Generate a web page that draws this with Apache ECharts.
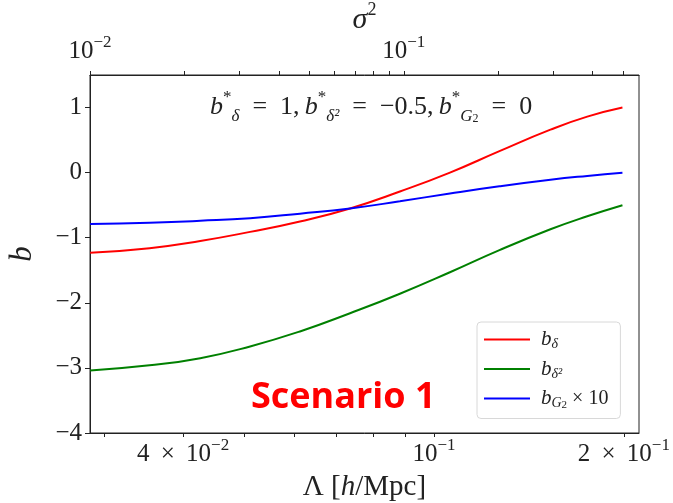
<!DOCTYPE html>
<html>
<head>
<meta charset="utf-8">
<script src="https://cdn.jsdelivr.net/npm/echarts@6/dist/echarts.min.js"></script>
<style>
    html, body { margin: 0; padding: 0; background: #fff; }
    #chart { width: 673px; height: 503px; }
</style>
</head>
<body>
<div id="chart"></div>
<script>
    // Λ [h/Mpc] sample points
    var lambdaVals = [0.0285, 0.0354, 0.0426, 0.0511, 0.0613, 0.0736, 0.0883, 0.106, 0.127, 0.153, 0.175, 0.199]
    // bias curves
    var bDelta = [-1.23, -1.16, -1.05, -0.91, -0.75, -0.55, -0.29, 0.0, 0.33, 0.66, 0.86, 1.0]
    var bDelta2 = [-3.04, -2.96, -2.85, -2.67, -2.44, -2.16, -1.86, -1.53, -1.19, -0.87, -0.67, -0.5]
    var bG2x10 = [-0.79, -0.77, -0.74, -0.70, -0.63, -0.55, -0.44, -0.32, -0.21, -0.11, -0.05, 0.0]

    // ticks
    var yTicks = [-4, -3, -2, -1, 0, 1]
    var bottomLabels = [0.04, 0.1, 0.2]
    var bottomTicks = [0.03, 0.04, 0.05, 0.06, 0.07, 0.08, 0.09, 0.1, 0.2]
    var topLabels = [0.01, 0.1]
    var topTicks = [0.01, 0.02, 0.03, 0.04, 0.05, 0.06, 0.07, 0.08, 0.09, 0.1, 0.2, 0.3, 0.4, 0.5]

    var SERIF = '"Liberation Serif", "DejaVu Serif", serif'
    var INK = '#222'
    var LINE_ICON = 'path://M0,0L46,0L46,2L0,2Z'

    function pairs (ys) {
        return lambdaVals.map(function (x, i) { return [x, ys[i]] })
    }

    // 4 × 10^-2 style label
    function sciLabel (v) {
        var e = Math.floor(Math.log10(v) + 1e-9)
        var m = Math.round(v / Math.pow(10, e))
        var head = m === 1 ? '10' : m + '\u2009 × \u200910'
        return '{n|' + head + '}{s|−' + Math.abs(e) + '}'
    }

    var sciRich = {
        n: { fontFamily: SERIF, fontSize: 25, color: INK, verticalAlign: 'bottom', lineHeight: 30 },
        s: { fontFamily: SERIF, fontSize: 17, color: INK, verticalAlign: 'top', lineHeight: 30 }
    }

    var legendNames = {
        'bd': '{i|b}{sb|δ}',
        'bd2': '{i|b}{sb|δ²}',
        'bg2': '{i|b}{sb|G}{ss|2}{t| × 10}'
    }

    var chart = echarts.init(document.getElementById('chart'))
    chart.setOption({
        animation: false,
        grid: {
            left: 90,
            right: 34,
            top: 75,
            bottom: 70,
            containLabel: false,
            outerBoundsMode: 'none',
            show: true,
            borderColor: INK,
            borderWidth: 1
        },
        legend: {
            orient: 'vertical',
            left: 477,
            top: 322,
            width: 150,
            padding: [7, 12, 8, 7],
            itemGap: 7,
            itemWidth: 46,
            itemHeight: 24,
            icon: LINE_ICON,
            borderColor: '#d8d8d8',
            borderWidth: 1,
            borderRadius: 4,
            backgroundColor: 'rgba(255,255,255,0.85)',
            data: ['bd', 'bd2', 'bg2'],
            formatter: function (name) { return legendNames[name] },
            textStyle: {
                rich: {
                    i: { fontFamily: SERIF, fontStyle: 'italic', fontSize: 21, color: INK, padding: [0, 0, 0, 6] },
                    sb: { fontFamily: SERIF, fontStyle: 'italic', fontSize: 14, color: INK, verticalAlign: 'bottom', lineHeight: 24 },
                    ss: { fontFamily: SERIF, fontSize: 11, color: INK, verticalAlign: 'bottom', lineHeight: 22 },
                    t: { fontFamily: SERIF, fontSize: 20, color: INK }
                }
            }
        },
        xAxis: [{
            type: 'log',
            position: 'bottom',
            min: 0.02848,
            max: 0.2114,
            splitLine: { show: false },
            axisLine: { onZero: false, lineStyle: { color: INK, width: 1 } },
            axisTick: { length: 4, customValues: bottomTicks, lineStyle: { color: INK } },
            minorTick: { show: false },
            axisLabel: {
                customValues: bottomLabels,
                margin: 4,
                formatter: sciLabel,
                rich: sciRich
            },
            name: '{a|Λ [}{i|h}{a|/Mpc]}',
            nameLocation: 'middle',
            nameGap: 40,
            nameMoveOverlap: false,
            nameTextStyle: {
                rich: {
                    a: { fontFamily: SERIF, fontSize: 29, color: INK },
                    i: { fontFamily: SERIF, fontStyle: 'italic', fontSize: 29, color: INK }
                }
            }
        }, {
            type: 'log',
            position: 'top',
            min: 0.01,
            max: 0.562,
            splitLine: { show: false },
            axisLine: { onZero: false, lineStyle: { color: INK, width: 1 } },
            axisTick: { length: 4, customValues: topTicks, lineStyle: { color: INK } },
            minorTick: { show: false },
            axisLabel: {
                customValues: topLabels,
                margin: 11,
                formatter: sciLabel,
                rich: sciRich
            },
            name: '{i|σ}{s|2}',
            nameLocation: 'middle',
            nameGap: 40,
            nameMoveOverlap: false,
            nameTextStyle: {
                rich: {
                    i: { fontFamily: SERIF, fontStyle: 'italic', fontSize: 30, color: INK, verticalAlign: 'bottom', lineHeight: 34 },
                    s: { fontFamily: SERIF, fontSize: 18, color: INK, verticalAlign: 'top', lineHeight: 34 }
                }
            }
        }],
        yAxis: {
            type: 'value',
            min: -4,
            max: 1.5,
            interval: 1,
            splitLine: { show: false },
            axisLine: { show: true, onZero: false, lineStyle: { color: INK, width: 1 } },
            axisTick: { show: true, length: 5, customValues: yTicks, lineStyle: { color: INK } },
            axisLabel: {
                customValues: yTicks,
                margin: 8,
                fontFamily: SERIF,
                fontSize: 25,
                color: INK,
                formatter: function (v) { return v < 0 ? '−' + Math.abs(v) : String(v) }
            },
            name: 'b',
            nameLocation: 'middle',
            nameGap: 52,
            nameMoveOverlap: false,
            nameTextStyle: { fontFamily: SERIF, fontStyle: 'italic', fontSize: 31, color: INK }
        },
        series: [{
            name: 'bd',
            type: 'line',
            xAxisIndex: 0,
            data: pairs(bDelta),
            symbol: 'none',
            smooth: true,
            color: '#ff0000',
            lineStyle: { width: 2, color: '#ff0000' }
        }, {
            name: 'bd2',
            type: 'line',
            xAxisIndex: 0,
            data: pairs(bDelta2),
            symbol: 'none',
            smooth: true,
            color: '#008000',
            lineStyle: { width: 2, color: '#008000' }
        }, {
            name: 'bg2',
            type: 'line',
            xAxisIndex: 0,
            data: pairs(bG2x10),
            symbol: 'none',
            smooth: true,
            color: '#0000ff',
            lineStyle: { width: 2, color: '#0000ff' }
        }],
        graphic: [{
            type: 'text',
            left: 210,
            top: 89,
            style: {
                text: '{i|b}{sp|*}{sb|δ}{t|\u2002=\u20021,\u2009}{i|b}{sp|*}{sb|δ²}{t|\u2002=\u2002−0.5,\u2009}{i|b}{sp|*}{sb|G}{ss|2}{t|\u2002=\u20020}',
                rich: {
                    i: { fontFamily: SERIF, fontStyle: 'italic', fontSize: 26, fill: INK, verticalAlign: 'middle', lineHeight: 36 },
                    t: { fontFamily: SERIF, fontSize: 26, fill: INK, verticalAlign: 'middle', lineHeight: 36 },
                    sp: { fontFamily: SERIF, fontSize: 17, fill: INK, verticalAlign: 'top', lineHeight: 36 },
                    sb: { fontFamily: SERIF, fontStyle: 'italic', fontSize: 17, fill: INK, verticalAlign: 'bottom', lineHeight: 36 },
                    ss: { fontFamily: SERIF, fontSize: 12, fill: INK, verticalAlign: 'bottom', lineHeight: 34 }
                }
            }
        }, {
            type: 'text',
            left: 251,
            top: 380,
            style: {
                text: 'Scenario 1',
                fontFamily: '"Open Sans", "Noto Sans", sans-serif',
                fontWeight: 'bold',
                fontSize: 36,
                fill: '#ff0000'
            }
        }]
    })
</script>
</body>
</html>
